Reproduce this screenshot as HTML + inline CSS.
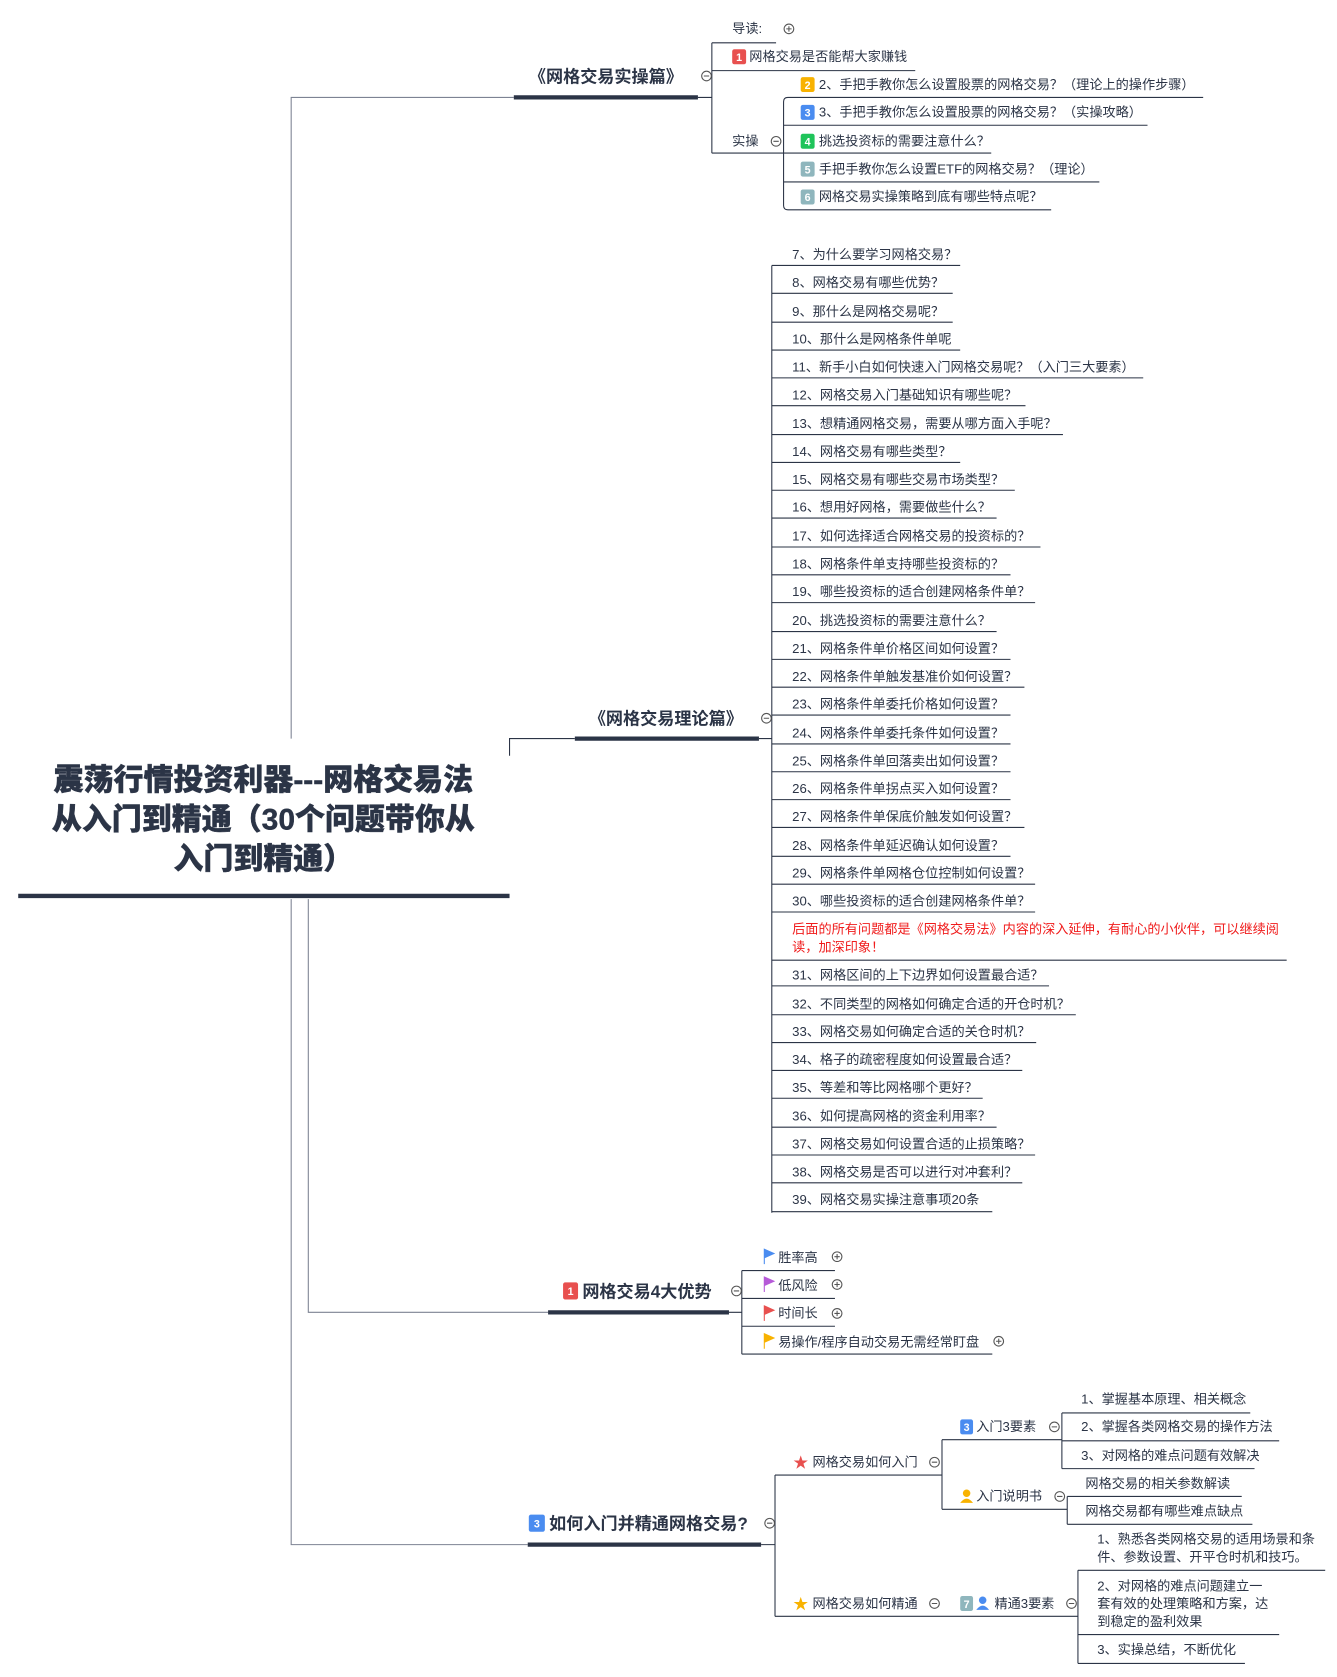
<!DOCTYPE html>
<html><head><meta charset="utf-8"><style>
html,body{margin:0;padding:0;background:#fff;}
svg text{font-family:"Liberation Sans","Noto Sans CJK SC",sans-serif;fill:#2b3446;}
.t{font-size:12.3px;}
.b{font-weight:bold;font-size:16px;}
.bd{font-size:10px;font-weight:bold;fill:#fff;}
</style></head><body>
<svg width="1337" height="1672" viewBox="0 0 1249 1562" xmlns="http://www.w3.org/2000/svg">
<g stroke="#2b3446" stroke-width="1" fill="none">
<path d="M272 690 V91 H480" stroke="#7d8393"/>
<path d="M272 840 V1443 H493" stroke="#7d8393"/>
<path d="M288 840 V1226 H512" stroke="#7d8393"/>
<path d="M476 706 V690 H537"/>
</g>
<g stroke="#2b3446" stroke-width="4">
<line x1="17" y1="837" x2="476" y2="837"/>
<line x1="480" y1="91" x2="652" y2="91"/>
<line x1="537" y1="690" x2="709" y2="690"/>
<line x1="512" y1="1226" x2="681" y2="1226"/>
<line x1="493" y1="1443" x2="711" y2="1443"/>
</g>
<g font-weight="900" font-size="28" text-anchor="middle" style="font-weight:900">
<text x="246" y="738" stroke="#2b3446" stroke-width="0.4">震荡行情投资利器---网格交易法</text>
<text x="246" y="775" stroke="#2b3446" stroke-width="0.4">从入门到精通（30个问题带你从</text>
<text x="246" y="812" stroke="#2b3446" stroke-width="0.4">入门到精通）</text>
</g>
<g stroke="#2b3446" stroke-width="1" fill="none">
<path d="M652 91 H665 M665 40 V143 M665 40 H725 M665 66 H855 M665 143 H732"/>
<path d="M732 143 V95 Q732 91 736 91 H1124 M732 117 H1072 M732 143 H926 M732 143 V192 Q732 196 736 196 H982 M732 170 H1027"/>
<path d="M709 690 H721 M721 248 V1133"/>
<path d="M681 1226 H693 M693 1187 V1265 M693 1187 H780 M693 1213 H780 M693 1239 H780 M693 1265 H927"/>
<path d="M711 1443 H724 M724 1378 V1510 M724 1378 H880 M880 1345 V1410 M880 1345 H992 M880 1410 H997"/>
<path d="M992 1320 V1372 M992 1320 H1168 M992 1346 H1195 M992 1372 H1172"/>
<path d="M997 1398 V1424 M997 1398 H1160 M997 1424 H1170"/>
<path d="M724 1510 H1007 M1007 1467 V1554 M1007 1467 H1238 M1007 1527 H1195 M1007 1554 H1163"/>
</g>
<g stroke="#555" fill="#fff" stroke-width="1">
<circle cx="737" cy="27" r="4.5"/><circle cx="660" cy="71" r="4.5"/><circle cx="725" cy="132" r="4.5"/>
<circle cx="716" cy="671" r="4.5"/><circle cx="688" cy="1206" r="4.5"/>
<circle cx="782" cy="1174" r="4.5"/><circle cx="782" cy="1200" r="4.5"/><circle cx="782" cy="1227" r="4.5"/><circle cx="933" cy="1253" r="4.5"/>
<circle cx="719" cy="1423" r="4.5"/><circle cx="873" cy="1366" r="4.5"/><circle cx="985" cy="1333" r="4.5"/><circle cx="990" cy="1398" r="4.5"/>
<circle cx="873" cy="1498" r="4.5"/><circle cx="1001" cy="1498" r="4.5"/>
</g>
<g stroke="#555" stroke-width="1">
<path d="M734.5 27h5M737 24.5v5M657.5 71h5M722.5 132h5M713.5 671h5M685.5 1206h5M779.5 1174h5M782 1171.5v5M779.5 1200h5M782 1197.5v5M779.5 1227h5M782 1224.5v5M930.5 1253h5M933 1250.5v5M716.5 1423h5M870.5 1366h5M982.5 1333h5M987.5 1398h5M870.5 1498h5M998.5 1498h5"/>
</g>
<text class="b" x="566" y="77" text-anchor="middle">《网格交易实操篇》</text>
<text class="t" x="684" y="31">导读:</text>
<rect x="684" y="46" width="13" height="14" rx="2" fill="#e8504f"/><text class="bd" x="690.5" y="57" text-anchor="middle">1</text>
<text class="t" x="700" y="57">网格交易是否能帮大家赚钱</text>
<text class="t" x="684" y="136">实操</text>
<rect x="748" y="72" width="13" height="14" rx="2" fill="#f8b200"/><text class="bd" x="754.5" y="83" text-anchor="middle">2</text>
<text class="t" x="765" y="83">2、手把手教你怎么设置股票的网格交易？（理论上的操作步骤）</text>
<rect x="748" y="98" width="13" height="14" rx="2" fill="#4a8cf0"/><text class="bd" x="754.5" y="109" text-anchor="middle">3</text>
<text class="t" x="765" y="109">3、手把手教你怎么设置股票的网格交易？（实操攻略）</text>
<rect x="748" y="125" width="13" height="14" rx="2" fill="#1fc45a"/><text class="bd" x="754.5" y="136" text-anchor="middle">4</text>
<text class="t" x="765" y="136">挑选投资标的需要注意什么？</text>
<rect x="748" y="151" width="13" height="14" rx="2" fill="#8fb6bd"/><text class="bd" x="754.5" y="162" text-anchor="middle">5</text>
<text class="t" x="765" y="162">手把手教你怎么设置ETF的网格交易？（理论）</text>
<rect x="748" y="177" width="13" height="14" rx="2" fill="#8fb6bd"/><text class="bd" x="754.5" y="188" text-anchor="middle">6</text>
<text class="t" x="765" y="188">网格交易实操策略到底有哪些特点呢？</text>
<text class="b" x="622" y="677" text-anchor="middle">《网格交易理论篇》</text>
<g class="t">
<text x="740" y="242">7、为什么要学习网格交易？</text>
<text x="740" y="268">8、网格交易有哪些优势？</text>
<text x="740" y="295">9、那什么是网格交易呢？</text>
<text x="740" y="321">10、那什么是网格条件单呢</text>
<text x="740" y="347">11、新手小白如何快速入门网格交易呢？（入门三大要素）</text>
<text x="740" y="373">12、网格交易入门基础知识有哪些呢？</text>
<text x="740" y="400">13、想精通网格交易，需要从哪方面入手呢？</text>
<text x="740" y="426">14、网格交易有哪些类型？</text>
<text x="740" y="452">15、网格交易有哪些交易市场类型？</text>
<text x="740" y="478">16、想用好网格，需要做些什么？</text>
<text x="740" y="505">17、如何选择适合网格交易的投资标的？</text>
<text x="740" y="531">18、网格条件单支持哪些投资标的？</text>
<text x="740" y="557">19、哪些投资标的适合创建网格条件单？</text>
<text x="740" y="584">20、挑选投资标的需要注意什么？</text>
<text x="740" y="610">21、网格条件单价格区间如何设置？</text>
<text x="740" y="636">22、网格条件单触发基准价如何设置？</text>
<text x="740" y="662">23、网格条件单委托价格如何设置？</text>
<text x="740" y="689">24、网格条件单委托条件如何设置？</text>
<text x="740" y="715">25、网格条件单回落卖出如何设置？</text>
<text x="740" y="741">26、网格条件单拐点买入如何设置？</text>
<text x="740" y="767">27、网格条件单保底价触发如何设置？</text>
<text x="740" y="794">28、网格条件单延迟确认如何设置？</text>
<text x="740" y="820">29、网格条件单网格仓位控制如何设置？</text>
<text x="740" y="846">30、哪些投资标的适合创建网格条件单？</text>
<text x="740" y="872" style="fill:#f01c1c">后面的所有问题都是《网格交易法》内容的深入延伸，有耐心的小伙伴，可以继续阅</text>
<text x="740" y="889" style="fill:#f01c1c">读，加深印象！</text>
<text x="740" y="915">31、网格区间的上下边界如何设置最合适？</text>
<text x="740" y="942">32、不同类型的网格如何确定合适的开仓时机？</text>
<text x="740" y="968">33、网格交易如何确定合适的关仓时机？</text>
<text x="740" y="994">34、格子的疏密程度如何设置最合适？</text>
<text x="740" y="1020">35、等差和等比网格哪个更好？</text>
<text x="740" y="1047">36、如何提高网格的资金利用率？</text>
<text x="740" y="1073">37、网格交易如何设置合适的止损策略？</text>
<text x="740" y="1099">38、网格交易是否可以进行对冲套利？</text>
<text x="740" y="1125">39、网格交易实操注意事项20条</text>
</g>
<g stroke="#2b3446" stroke-width="1">
<path d="M721 248H897M721 274H890M721 301H890M721 327H897M721 353H1068M721 379H958M721 406H993M721 432H897M721 458H948M721 484H931M721 511H972M721 537H944M721 563H967M721 590H931M721 616H944M721 642H957M721 668H944M721 695H944M721 721H944M721 747H944M721 773H957M721 800H944M721 826H967M721 852H967M721 897H1202M721 921H980M721 948H1005M721 974H968M721 1000H955M721 1026H918M721 1053H931M721 1079H967M721 1105H955M721 1132H927"/>
</g>
<rect x="526" y="1198" width="14" height="16" rx="2" fill="#e8504f"/><text class="bd" x="533" y="1210" text-anchor="middle" font-size="11">1</text>
<text class="b" x="544" y="1212">网格交易4大优势</text>
<path d="M714 1167v14M714 1167l9 4-9 4z" stroke="#4a8cf0" fill="#4a8cf0"/>
<path d="M714 1193v14M714 1193l9 4-9 4z" stroke="#b65ad8" fill="#b65ad8"/>
<path d="M714 1220v14M714 1220l9 4-9 4z" stroke="#e8504f" fill="#e8504f"/>
<path d="M714 1246v14M714 1246l9 4-9 4z" stroke="#f8b200" fill="#f8b200"/>
<text class="t" x="727" y="1179">胜率高</text>
<text class="t" x="727" y="1205">低风险</text>
<text class="t" x="727" y="1231">时间长</text>
<text class="t" x="727" y="1258">易操作/程序自动交易无需经常盯盘</text>
<rect x="494" y="1415" width="15" height="16" rx="2" fill="#4a8cf0"/><text class="bd" x="501.5" y="1427" text-anchor="middle" font-size="11">3</text>
<text class="b" x="513" y="1429">如何入门并精通网格交易?</text>
<text x="748" y="1371" font-size="14" text-anchor="middle" style="fill:#e8504f">★</text>
<text class="t" x="759" y="1370">网格交易如何入门</text>
<text x="748" y="1503" font-size="14" text-anchor="middle" style="fill:#f8b200">★</text>
<text class="t" x="759" y="1502">网格交易如何精通</text>
<rect x="897" y="1326" width="12" height="14" rx="2" fill="#4a8cf0"/><text class="bd" x="903" y="1337" text-anchor="middle">3</text>
<text class="t" x="912" y="1337">入门3要素</text>
<circle cx="903" cy="1395" r="3.5" fill="#f8b200"/><path d="M897 1404q6-8 12 0z" fill="#f8b200"/>
<text class="t" x="912" y="1402">入门说明书</text>
<rect x="897" y="1491" width="12" height="14" rx="2" fill="#8fb6bd"/><text class="bd" x="903" y="1502" text-anchor="middle">7</text>
<circle cx="918" cy="1495" r="3.5" fill="#4a8cf0"/><path d="M912 1504q6-8 12 0z" fill="#4a8cf0"/>
<text class="t" x="929" y="1502">精通3要素</text>
<g class="t">
<text x="1010" y="1311">1、掌握基本原理、相关概念</text>
<text x="1010" y="1337">2、掌握各类网格交易的操作方法</text>
<text x="1010" y="1364">3、对网格的难点问题有效解决</text>
<text x="1014" y="1390">网格交易的相关参数解读</text>
<text x="1014" y="1416">网格交易都有哪些难点缺点</text>
<text x="1025" y="1442">1、熟悉各类网格交易的适用场景和条</text>
<text x="1025" y="1459">件、参数设置、开平仓时机和技巧。</text>
<text x="1025" y="1486">2、对网格的难点问题建立一</text>
<text x="1025" y="1502">套有效的处理策略和方案，达</text>
<text x="1025" y="1519">到稳定的盈利效果</text>
<text x="1025" y="1545">3、实操总结，不断优化</text>
</g>
</svg>
</body></html>
